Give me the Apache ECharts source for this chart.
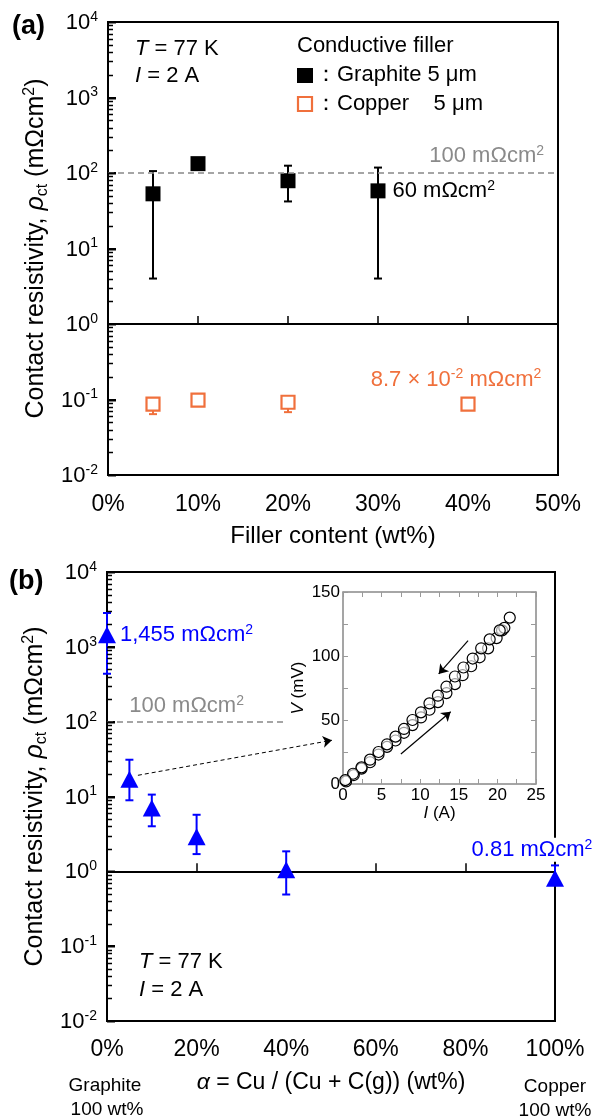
<!DOCTYPE html>
<html>
<head>
<meta charset="utf-8">
<script src="https://cdn.jsdelivr.net/npm/echarts@6/dist/echarts.min.js"></script>
<style>
  html, body { margin: 0; padding: 0; background: #fff; }
  #chart { width: 595px; height: 1119px; }
</style>
</head>
<body>
<div id="chart"></div>
<script>
// (a) contact resistivity vs filler content
const graphiteX = [5, 10, 20, 30];
const graphiteY = [53, 133, 79, 58];
const graphiteHi = [106, null, 125, 118];
const graphiteLo = [4.0, null, 42, 4.0];

const copperX = [5, 10, 20, 40];
const copperY = [0.087, 0.098, 0.092, 0.087];
const copperHi = [0.1, null, 0.1, null];
const copperLo = [0.064, null, 0.068, null];

// (b) contact resistivity vs Cu ratio
const alphaX = [0, 5, 10, 20, 40, 100];
const alphaY = [1455, 17, 7.0, 2.9, 1.05, 0.81];
const alphaHi = [2830, 31, 10.6, 5.7, 1.85, 1.2];
const alphaLo = [437, 8.9, 4.0, 1.7, 0.49, 0.7];

// inset: I-V curve, current up / current down
const upI = [0.4, 1.4, 2.4, 3.5, 4.6, 5.7, 6.8, 7.9, 9.0, 10.1, 11.2, 12.3, 13.4, 14.5, 15.5, 16.6, 17.7, 18.8, 19.9, 20.6, 21.6];
const upV = [2, 7, 12, 17, 23, 29, 34, 40, 46, 52, 58, 64, 71, 78, 85, 92, 99, 106, 114, 120, 130];
const downI = [20.9, 20.3, 19.0, 17.9, 16.8, 15.6, 14.5, 13.4, 12.3, 11.2, 10.1, 9.0, 7.9, 6.8, 5.7, 4.6, 3.5, 2.4, 1.3, 0.3];
const downV = [122, 120, 113, 106, 98, 91, 84, 76, 69, 63, 56, 50, 43, 37, 31, 25, 19, 13, 8, 3];

// log axis tick marks: decades and the 2..9 steps inside each
const decades = [0.01, 0.1, 1, 10, 100, 1000, 10000];
const minorSteps = [2, 3, 4, 5, 6, 7, 8, 9];

const FONT = 'Liberation Sans, Arial, sans-serif';
const ORANGE = '#F0703C';
const BLUE = '#0000FF';
const GRAY = '#8a8a8a';

const A = { left: 108, top: 22, width: 450, height: 453 };
const B = { left: 107, top: 572, width: 448, height: 449 };

const supRich = {
    i: { fontStyle: 'italic' },
    s: { fontSize: 14, lineHeight: 15, verticalAlign: 'top' },
    sub: { fontSize: 14, lineHeight: 14, verticalAlign: 'bottom' }
};
const nameRich = {
    i: { fontStyle: 'italic', fontSize: 25 },
    s: { fontSize: 16, lineHeight: 17, verticalAlign: 'top' },
    sub: { fontSize: 16, lineHeight: 16, verticalAlign: 'bottom' }
};

const yName = 'Contact resistivity, {i|ρ}{sub|ct} (mΩcm{s|2})';

function powLabel(v) {
    const e = Math.round(Math.log10(v));
    return '{b|10}{s|' + e + '}';
}

function logAxis(grid) {
    return {
        type: 'log', logBase: 10, gridIndex: grid,
        min: 0.01, max: 10000, splitNumber: 6,
        axisLine: { show: true, onZero: false, lineStyle: { color: '#000', width: 2 } },
        axisTick: { show: true, inside: true, length: 8, lineStyle: { color: '#000', width: 2 } },
        splitLine: { show: false },
        axisLabel: {
            formatter: powLabel, margin: 10, color: '#000',
            rich: {
                b: { fontSize: 22, lineHeight: 24, verticalAlign: 'bottom', color: '#000' },
                s: { fontSize: 14, lineHeight: 17, verticalAlign: 'top', color: '#000' }
            }
        },
        name: yName, nameLocation: 'middle', nameGap: 51,
        nameTextStyle: { fontSize: 25, color: '#000', lineHeight: 29, rich: nameRich }
    };
}

function deco(grid, max, step) {
    return {
        type: 'value', gridIndex: grid, min: 0, max: max, interval: step,
        axisLine: { onZero: false, lineStyle: { color: '#000', width: 2 } },
        axisTick: { inside: true, length: 8, lineStyle: { color: '#000', width: 1.5 } },
        axisLabel: { show: false },
        splitLine: { show: false }
    };
}

function errBars(color) {
    return (params, api) => {
        const x = api.value(0);
        const lo = api.coord([x, api.value(1)]);
        const hi = api.coord([x, api.value(2)]);
        const c = 4;
        const st = { stroke: color, lineWidth: 2 };
        return {
            type: 'group',
            children: [
                { type: 'line', shape: { x1: lo[0], y1: lo[1], x2: hi[0], y2: hi[1] }, style: st },
                { type: 'line', shape: { x1: lo[0] - c, y1: lo[1], x2: lo[0] + c, y2: lo[1] }, style: st },
                { type: 'line', shape: { x1: hi[0] - c, y1: hi[1], x2: hi[0] + c, y2: hi[1] }, style: st }
            ]
        };
    };
}

function errData(xs, lo, hi) {
    const out = [];
    xs.forEach((x, i) => { if (hi[i] != null) out.push([x, lo[i], hi[i]]); });
    return out;
}

const insetAxis = {
    axisLine: { onZero: false, lineStyle: { color: '#999', width: 1.5 } },
    axisTick: { inside: true, length: 5, lineStyle: { color: '#999' } },
    minorTick: { show: true, splitNumber: 2, length: 5, lineStyle: { color: '#999' } },
    splitLine: { show: false }
};

// left-axis tick marks for a panel box spanning 10^-2 .. 10^4
function panelTicks(box) {
    const out = [];
    const yOf = v => box.top + box.height * (4 - Math.log10(v)) / 6;
    decades.forEach(d => {
        const vals = [d].concat(d < 10000 ? minorSteps.map(m => d * m) : []);
        vals.forEach((v, k) => {
            const y = Math.round(yOf(v)) + 0.5;
            out.push({
                type: 'line', z: 100, silent: true,
                shape: { x1: box.left, y1: y, x2: box.left + (k === 0 ? 8 : 5), y2: y },
                style: { stroke: '#000', lineWidth: k === 0 ? 2 : 1.5 }
            });
        });
    });
    return out;
}

const italic = { i: { fontStyle: 'italic', fontSize: 22 } };
const texts = [
    { type: 'text', x: 12, y: 27, style: { text: '(a)', font: 'bold 27px ' + FONT, fill: '#000', verticalAlign: 'middle' } },
    { type: 'text', x: 9, y: 582, style: { text: '(b)', font: 'bold 27px ' + FONT, fill: '#000', verticalAlign: 'middle' } },
    { type: 'text', x: 135, y: 49, style: { text: '{i|T} = 77 K', font: '22px ' + FONT, fill: '#000', verticalAlign: 'middle', rich: italic } },
    { type: 'text', x: 135, y: 76, style: { text: '{i|I} = 2 A', font: '22px ' + FONT, fill: '#000', verticalAlign: 'middle', rich: italic } },
    { type: 'text', x: 297, y: 46, style: { text: 'Conductive filler', font: '22px ' + FONT, fill: '#000', verticalAlign: 'middle' } },
    { type: 'rect', shape: { x: 297, y: 68, width: 16, height: 15 }, style: { fill: '#000' } },
    { type: 'text', x: 315, y: 75, style: { text: '：Graphite 5 μm', font: '22px ' + FONT, fill: '#000', verticalAlign: 'middle' } },
    { type: 'rect', shape: { x: 298, y: 97, width: 14, height: 14 }, style: { fill: '#fff', stroke: ORANGE, lineWidth: 2.2 } },
    { type: 'text', x: 315, y: 104, style: { text: '：Copper    5 μm', font: '22px ' + FONT, fill: '#000', verticalAlign: 'middle' } },
    { type: 'text', x: 139, y: 962, style: { text: '{i|T} = 77 K', font: '22px ' + FONT, fill: '#000', verticalAlign: 'middle', rich: italic } },
    { type: 'text', x: 139, y: 990, style: { text: '{i|I} = 2 A', font: '22px ' + FONT, fill: '#000', verticalAlign: 'middle', rich: italic } },
    { type: 'text', x: 105, y: 1086, style: { text: 'Graphite', font: '19px ' + FONT, fill: '#000', align: 'center', verticalAlign: 'middle' } },
    { type: 'text', x: 107, y: 1110, style: { text: '100 wt%', font: '19px ' + FONT, fill: '#000', align: 'center', verticalAlign: 'middle' } },
    { type: 'text', x: 555, y: 1087, style: { text: 'Copper', font: '19px ' + FONT, fill: '#000', align: 'center', verticalAlign: 'middle' } },
    { type: 'text', x: 555, y: 1111, style: { text: '100 wt%', font: '19px ' + FONT, fill: '#000', align: 'center', verticalAlign: 'middle' } }
];

const chart = echarts.init(document.getElementById('chart'));

chart.setOption({
    animation: false,
    textStyle: { fontFamily: FONT },
    grid: [
        { left: A.left, top: A.top, width: A.width, height: A.height, show: true, borderColor: '#000', borderWidth: 2, containLabel: false, outerBoundsMode: 'none' },
        { left: A.left, top: A.top, width: A.width, height: A.height * 4 / 6, containLabel: false, outerBoundsMode: 'none' },
        { left: B.left, top: B.top, width: B.width, height: B.height, show: true, borderColor: '#000', borderWidth: 2, containLabel: false, outerBoundsMode: 'none' },
        { left: B.left, top: B.top, width: B.width, height: B.height * 4 / 6, containLabel: false, outerBoundsMode: 'none' },
        { left: 343, top: 592, width: 193, height: 192, show: true, backgroundColor: '#fff', borderColor: '#999', containLabel: false, outerBoundsMode: 'none' }
    ],
    xAxis: [
        {
            type: 'value', gridIndex: 0, min: 0, max: 50, interval: 10,
            axisLine: { onZero: false, lineStyle: { color: '#000', width: 2 } },
            axisTick: { show: false }, splitLine: { show: false },
            axisLabel: { formatter: '{value}%', fontSize: 23, color: '#000', margin: 18 },
            name: 'Filler content (wt%)', nameLocation: 'middle', nameGap: 49,
            nameTextStyle: { fontSize: 24, color: '#000' }
        },
        deco(1, 50, 10),
        {
            type: 'value', gridIndex: 2, min: 0, max: 100, interval: 20,
            axisLine: { onZero: false, lineStyle: { color: '#000', width: 2 } },
            axisTick: { show: false }, splitLine: { show: false },
            axisLabel: { formatter: '{value}%', fontSize: 23, color: '#000', margin: 17 },
            name: '{i|α} = Cu / (Cu + C(g)) (wt%)', nameLocation: 'middle', nameGap: 50,
            nameTextStyle: { fontSize: 23, color: '#000', rich: { i: { fontStyle: 'italic', fontSize: 23 } } }
        },
        deco(3, 100, 20),
        Object.assign({
            type: 'value', gridIndex: 4, min: 0, max: 25, interval: 5,
            axisLabel: { fontSize: 17, color: '#000', margin: 3 },
            name: '{i|I} (A)', nameLocation: 'middle', nameGap: 21,
            nameTextStyle: { fontSize: 17, color: '#000', rich: supRich }
        }, insetAxis),
        Object.assign({
            type: 'value', gridIndex: 4, min: 0, max: 25, interval: 5, position: 'top',
            axisLabel: { show: false }
        }, insetAxis)
    ],
    yAxis: [
        logAxis(0),
        { type: 'value', gridIndex: 1, show: false, min: 0, max: 1 },
        logAxis(2),
        { type: 'value', gridIndex: 3, show: false, min: 0, max: 1 },
        Object.assign({
            type: 'value', gridIndex: 4, min: 0, max: 150, interval: 50,
            axisLabel: { fontSize: 17, color: '#000', margin: 3 },
            name: '{i|V} (mV)', nameLocation: 'middle', nameGap: 36,
            nameTextStyle: { fontSize: 17, color: '#000', rich: supRich }
        }, insetAxis),
        Object.assign({
            type: 'value', gridIndex: 4, min: 0, max: 150, interval: 50, position: 'right',
            axisLabel: { show: false }
        }, insetAxis)
    ],
    series: [
        {
            type: 'custom', xAxisIndex: 0, yAxisIndex: 0, silent: true, z: 2,
            renderItem: errBars('#000'), encode: { x: 0, y: [1, 2] },
            data: errData(graphiteX, graphiteLo, graphiteHi)
        },
        {
            type: 'scatter', xAxisIndex: 0, yAxisIndex: 0, z: 3, silent: true,
            symbol: 'rect', symbolSize: 15,
            itemStyle: { color: '#000', opacity: 1 },
            data: graphiteX.map((x, i) => i === 3 ? {
                value: [x, graphiteY[i]],
                label: {
                    show: true, position: 'right', distance: 7,
                    formatter: '60 mΩcm{s|2}', fontSize: 22, color: '#000', lineHeight: 24, rich: supRich
                }
            } : [x, graphiteY[i]]),
            markLine: {
                silent: true, symbol: 'none',
                lineStyle: { type: [6, 4], color: '#888', width: 1.5 },
                label: {
                    position: 'insideEndTop', distance: [14, 5], formatter: '100 mΩcm{s|2}',
                    fontSize: 22, color: GRAY, lineHeight: 24, rich: supRich
                },
                data: [{ yAxis: 100 }]
            }
        },
        {
            type: 'custom', xAxisIndex: 0, yAxisIndex: 0, silent: true, z: 2,
            renderItem: errBars(ORANGE), encode: { x: 0, y: [1, 2] },
            data: errData(copperX, copperLo, copperHi)
        },
        {
            type: 'scatter', xAxisIndex: 0, yAxisIndex: 0, z: 3, silent: true,
            symbol: 'rect', symbolSize: 13,
            itemStyle: { color: '#fff', borderColor: ORANGE, borderWidth: 2.2, opacity: 1 },
            data: copperX.map((x, i) => i === 3 ? {
                value: [x, copperY[i]],
                label: {
                    show: true, position: 'top', distance: 5, offset: [-12, 0],
                    formatter: '8.7 × 10{s|-2} mΩcm{s|2}', fontSize: 22, color: ORANGE, lineHeight: 24, rich: supRich
                }
            } : [x, copperY[i]])
        },
        {
            type: 'custom', xAxisIndex: 2, yAxisIndex: 2, silent: true, z: 2,
            renderItem: errBars(BLUE), encode: { x: 0, y: [1, 2] },
            data: errData(alphaX, alphaLo, alphaHi)
        },
        {
            type: 'scatter', xAxisIndex: 2, yAxisIndex: 2, z: 3, silent: true,
            symbol: 'triangle', symbolSize: [18, 17],
            itemStyle: { color: BLUE, opacity: 1 },
            data: alphaX.map((x, i) => {
                if (i === 0) {
                    return {
                        value: [x, alphaY[i]],
                        label: {
                            show: true, position: 'right', distance: 4,
                            formatter: '1,455 mΩcm{s|2}', fontSize: 22, color: BLUE, lineHeight: 24, rich: supRich
                        }
                    };
                }
                if (i === alphaX.length - 1) {
                    return {
                        value: [x, alphaY[i]],
                        label: {
                            show: true, position: 'top', distance: 8, offset: [-23, 0],
                            backgroundColor: '#fff', padding: [0, 1],
                            formatter: '0.81 mΩcm{s|2}', fontSize: 22, color: BLUE, lineHeight: 24, rich: supRich
                        }
                    };
                }
                return [x, alphaY[i]];
            }),
            markLine: {
                silent: true, symbol: 'none',
                data: [
                    [
                        {
                            coord: [0, 100],
                            lineStyle: { type: [6, 4], color: '#888', width: 1.5 },
                            label: {
                                show: true, position: 'insideMiddleTop', distance: 4, offset: [-10, 0], formatter: '100 mΩcm{s|2}',
                                fontSize: 22, color: GRAY, lineHeight: 24, rich: supRich
                            }
                        },
                        { coord: [40, 100] }
                    ],
                    [
                        {
                            coord: [6.9, 19.2], symbol: 'none',
                            lineStyle: { type: [4, 3], color: '#000', width: 1 },
                            label: { show: false }
                        },
                        { coord: [50.2, 56.4], symbol: 'arrow', symbolSize: 9 }
                    ]
                ]
            }
        },
        {
            type: 'scatter', xAxisIndex: 4, yAxisIndex: 4, z: 5, silent: true,
            symbol: 'circle', symbolSize: 11,
            itemStyle: { color: 'rgba(255,255,255,0.6)', borderColor: '#000', borderWidth: 1.2, opacity: 1 },
            data: upI.map((x, i) => [x, upV[i]]),
            markLine: {
                silent: true,
                symbol: ['none', 'arrow'], symbolSize: 9,
                lineStyle: { type: 'solid', color: '#000', width: 1.2 },
                label: { show: false },
                data: [
                    [{ coord: [16.2, 112] }, { coord: [12.4, 86] }],
                    [{ coord: [7.5, 23.5] }, { coord: [13.95, 56.5] }]
                ]
            }
        },
        {
            type: 'scatter', xAxisIndex: 4, yAxisIndex: 4, z: 5, silent: true,
            symbol: 'circle', symbolSize: 11,
            itemStyle: { color: 'rgba(255,255,255,0.6)', borderColor: '#000', borderWidth: 1.2, opacity: 1 },
            data: downI.map((x, i) => [x, downV[i]])
        }
    ],
    graphic: texts.concat(panelTicks(A), panelTicks(B))
});
</script>
</body>
</html>
